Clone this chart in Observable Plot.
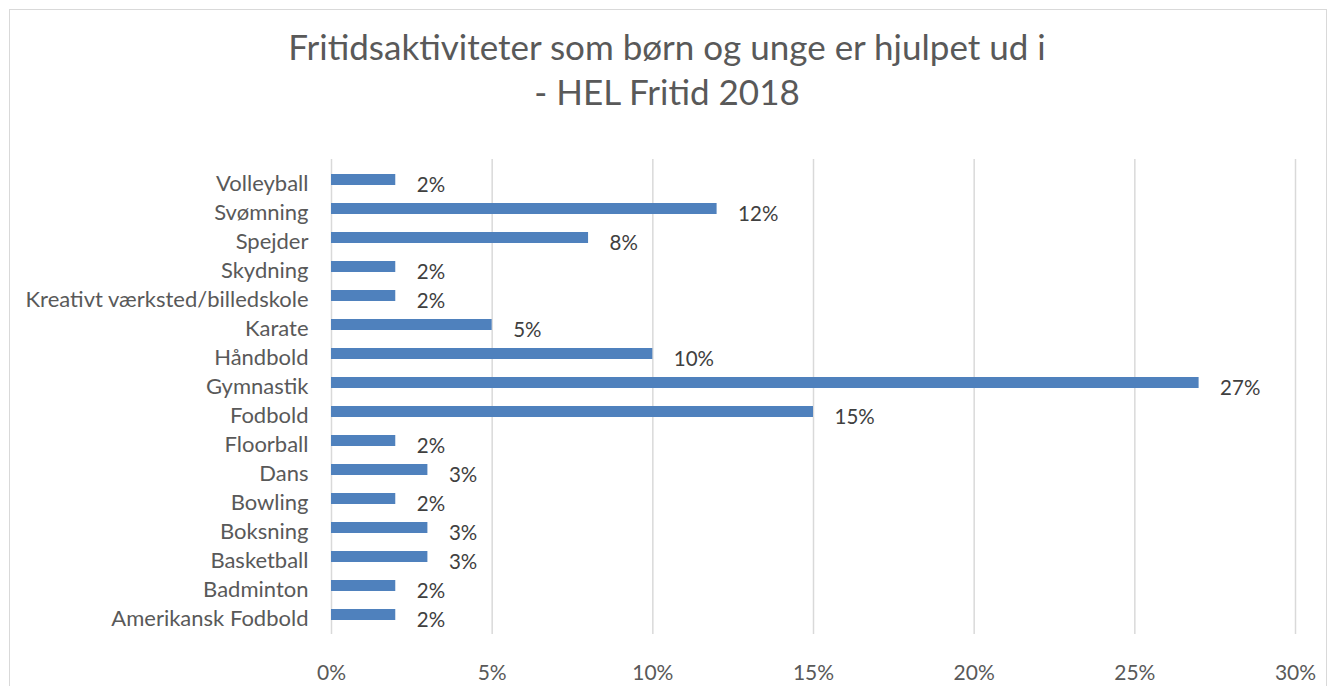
<!DOCTYPE html>
<html>
<head>
<meta charset="utf-8">
<script src="https://cdn.jsdelivr.net/npm/d3@7"></script>
<script src="https://cdn.jsdelivr.net/npm/@observablehq/plot@0.6"></script>
<style>
  html, body { margin: 0; padding: 0; background: #fff; }
  #wrap { position: relative; width: 1334px; height: 686px; overflow: hidden; font-family: Lato, "Open Sans", sans-serif; }
  #frame { position: absolute; left: 9px; top: 9px; width: 1318px; height: 700px; border: 1.5px solid #d9d9d9; box-sizing: border-box; }
  #title { position: absolute; left: 0; top: 24px; width: 1334px; text-align: center; color: #595959; font-size: 35px; line-height: 45px; font-weight: 400; }
  #chart { position: absolute; left: 0; top: 0; }
</style>
</head>
<body>
<div id="wrap">
  <div id="frame"></div>
  <div id="title">Fritidsaktiviteter som børn og unge er hjulpet ud i<br>- HEL Fritid 2018</div>
  <div id="chart"></div>
</div>
<script>
const categories = ["Volleyball","Svømning","Spejder","Skydning","Kreativt værksted/billedskole","Karate","Håndbold","Gymnastik","Fodbold","Floorball","Dans","Bowling","Boksning","Basketball","Badminton","Amerikansk Fodbold"];
const values = [0.02,0.12,0.08,0.02,0.02,0.05,0.10,0.27,0.15,0.02,0.03,0.02,0.03,0.03,0.02,0.02];
const xTicks = [0,0.05,0.10,0.15,0.20,0.25,0.30];

const data = categories.map((c, i) => ({category: c, value: values[i]}));
const pct = d3.format(".0%");

const chart = Plot.plot({
  width: 1334,
  height: 686,
  marginLeft: 331,
  marginRight: 39,
  marginTop: 159,
  marginBottom: 52,
  style: {fontFamily: "Lato, 'Open Sans', sans-serif", fontSize: "20px", background: "transparent"},
  x: {domain: [0, 0.30]},
  y: {domain: categories, paddingInner: 0.63, paddingOuter: 0.315},
  marks: [
    Plot.ruleX(xTicks, {stroke: "#d9d9d9", strokeWidth: 1.5}),
    Plot.barX(data, {y: "category", x: "value", fill: "#4f81bd"}),
    Plot.text(data, {y: "category", x: "value", text: d => pct(d.value), textAnchor: "start", dx: 21, dy: 5, fill: "#404040", fontSize: 20.5}),
    Plot.axisX({ticks: xTicks, tickFormat: pct, tickSize: 0, tickPadding: 31, label: null, fill: "#595959", fontSize: 21}),
    Plot.axisY({tickSize: 0, tickPadding: 23, label: null, fill: "#595959", fontSize: 22, dy: 4})
  ]
});
document.getElementById("chart").appendChild(chart);
</script>
</body>
</html>
